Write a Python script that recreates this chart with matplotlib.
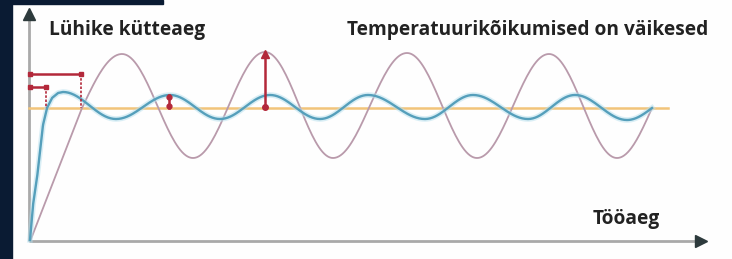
import numpy as np
import matplotlib.pyplot as plt
from matplotlib.patches import Rectangle

# values (x = time, y = temperature, arbitrary units)
blue_x = [1, 4, 8, 11, 14, 18, 23, 29, 34, 87, 141, 191, 241, 291, 339, 396, 444, 499, 546, 598, 623]
blue_y = [1, 36, 63, 89, 116, 133, 143, 148, 149, 122, 146, 122, 146, 122, 146, 122, 146, 122, 146, 121, 133]
blue_ease = ['lin'] * 8 + ['cos'] * 11 + ['in']

pink_x = [2, 53, 93, 164, 236, 304, 378, 448, 520, 588, 623]
pink_y = [2, 133, 187, 83, 189, 83, 188, 83, 187, 83, 133]
pink_ease = ['lin', 'out'] + ['cos'] * 7 + ['in']

setpoint = 133.5
setpoint_end = 639

# red marks: heating time brackets and deviation arrows
heat_slow = (52, 167)
heat_fast = (17, 154)
dev_small = (140, 133, 146)
dev_big = (236, 134, 190)

title_left = 'Lühike kütteaeg'
title_right = 'Temperatuurikõikumised on väikesed'
xlabel = 'Tööaeg'

navy = '#0a1b33'
red = '#b3283a'
axis_grey = '#a9a9a9'
arrow_dark = '#2d3a3c'
text_col = '#222222'


def smooth(xs, ys, eases):
    out_x, out_y = [], []
    for i in range(len(xs) - 1):
        t = np.linspace(0, 1, 40)
        e = eases[i]
        if e == 'cos':
            s = (1 - np.cos(np.pi * t)) / 2
        elif e == 'out':
            s = np.sin(np.pi * t / 2)
        elif e == 'in':
            s = 1 - np.cos(np.pi * t / 2)
        else:
            s = t
        out_x.append(xs[i] + (xs[i + 1] - xs[i]) * t)
        out_y.append(ys[i] + (ys[i + 1] - ys[i]) * s)
    return np.concatenate(out_x), np.concatenate(out_y)


fig = plt.figure(figsize=(7.32, 2.59), dpi=100)
fig.patch.set_facecolor('#fefefe')

# dark photo edge on the left and top
fig.patches.append(Rectangle((0, 0), 12 / 732, 1, transform=fig.transFigure,
                             color=navy, zorder=0))
fig.patches.append(Rectangle((0, 1 - 4 / 259), 163 / 732, 4 / 259,
                             transform=fig.transFigure, color=navy, zorder=0))
glow = fig.add_axes([0, 0, 12 / 732, 70 / 259])
grad = np.linspace(0, 1, 100).reshape(-1, 1)
glow.imshow(grad, cmap=plt.matplotlib.colors.LinearSegmentedColormap.from_list(
    'g', ['#1f4a78', navy]), aspect='auto', origin='lower')
glow.axis('off')

ax = fig.add_axes([0, 0, 1, 1])
ax.set_xlim(-29, 703)
ax.set_ylim(-18, 241)
ax.axis('off')

# axes with arrowheads
ax.plot([0, 0], [0, 224], color=axis_grey, lw=2, solid_capstyle='butt', zorder=2)
ax.plot([0, 668], [0, 0], color=axis_grey, lw=2, solid_capstyle='butt', zorder=2)
ax.plot(0, 227, marker='^', ms=9, color=arrow_dark, zorder=3)
ax.plot(672, 0, marker='>', ms=9, color=arrow_dark, zorder=3)

# set point
ax.plot([0, setpoint_end], [setpoint, setpoint], color='#f2c47a', lw=1.8, zorder=2)

# temperature curves
px, py = smooth(pink_x, pink_y, pink_ease)
ax.plot(px, py, color='#b99aab', lw=1.3, zorder=3)
bx, by = smooth(blue_x, blue_y, blue_ease)
ax.plot(bx, by, color='#b5dfee', lw=4, alpha=0.5, zorder=4)
ax.plot(bx, by, color='#559fbb', lw=1.7, zorder=5)

# heating time brackets
for hx, hy in [heat_slow, heat_fast]:
    ax.plot([1, hx], [hy, hy], color=red, lw=1.8, zorder=6)
    ax.plot([1, hx], [hy, hy], 's', color=red, ms=3.5, zorder=6)
    ax.plot([hx, hx], [hy, setpoint], color=red, lw=1.2, ls=(0, (1.5, 1)), zorder=6)

# deviation arrows
x0, y0, y1 = dev_small
ax.plot([x0, x0], [y0, y1], color=red, lw=1.8, zorder=6)
ax.plot([x0, x0], [y0 + 2, y1 - 2], 'o', color=red, ms=3.5, zorder=6)
x0, y0, y1 = dev_big
ax.plot([x0, x0], [y0, y1 - 3], color=red, lw=1.8, zorder=6)
ax.plot(x0, y0, 'o', color=red, ms=4, zorder=6)
ax.plot(x0, y1 - 3, marker='^', color=red, ms=6, zorder=6)

font = dict(fontsize=13.8, fontweight='bold', family='Open Sans', color=text_col,
            va='center', ha='left')
ax.text(20, 211, title_left, **font)
ax.text(318, 211, title_right, **font)
ax.text(564, 22, xlabel, **font)

fig.savefig('out.png', dpi=100, facecolor=fig.get_facecolor())
